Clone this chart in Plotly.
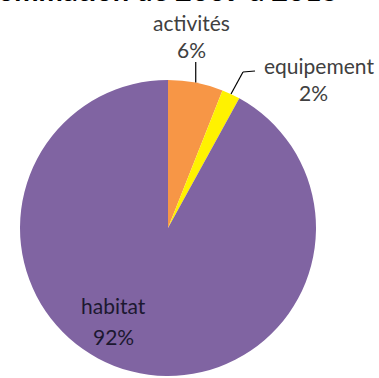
import math
import plotly.graph_objects as go

labels = ["activités", "equipement", "habitat"]
values = [6, 2, 92]
colors = ["#F79646", "#FFF200", "#8064A2"]
title_text = "Consommation de 2009 à 2015"

W, H = 379, 378
cx, cy, R = 168, 228, 148  # pie centre / radius in px (top-left origin)

fig = go.Figure(go.Pie(
    labels=labels, values=values, sort=False, direction="clockwise", rotation=0,
    marker=dict(colors=colors, line=dict(width=0)),
    textinfo="none", hoverinfo="label+percent", showlegend=False,
    domain=dict(x=[(cx - R) / W, (cx + R) / W], y=[(H - cy - R) / H, (H - cy + R) / H]),
))

def px(x, y):
    return x / W, 1 - y / H

total = sum(values)
mids = []
acc = 0
for v in values:
    mids.append((acc + v / 2) / total * 2 * math.pi)
    acc += v

def edge(i, f=1.0):
    a = mids[i]
    return cx + f * R * math.sin(a), cy - f * R * math.cos(a)

annots = []
shapes = []
font_out = dict(family="Lato, Carlito, sans-serif", size=21, color="#404040")
font_in = dict(family="Lato, Carlito, sans-serif", size=21, color="#1c1830")

# activités
ex, ey = edge(0)
shapes.append(dict(type="line", xref="paper", yref="paper",
                   x0=px(ex, ey)[0], y0=px(ex, ey)[1], x1=px(ex, 62)[0], y1=px(ex, 62)[1],
                   line=dict(color="#000000", width=1.2)))
for txt, yy in [(labels[0], 23), (f"{values[0]}%", 49)]:
    x, y = px(191, yy)
    annots.append(dict(text=txt, x=x, y=y, xref="paper", yref="paper", showarrow=False,
                       xanchor="center", yanchor="middle", font=font_out))

# equipement
ex, ey = edge(1)
pts = [(ex, ey), (243, 72), (255, 71)]
for (a, b), (c, d) in zip(pts[:-1], pts[1:]):
    shapes.append(dict(type="line", xref="paper", yref="paper",
                       x0=px(a, b)[0], y0=px(a, b)[1], x1=px(c, d)[0], y1=px(c, d)[1],
                       line=dict(color="#000000", width=1.2)))
for txt, yy, xx in [(labels[1], 65, 319), (f"{values[1]}%", 92, 313)]:
    x, y = px(xx, yy)
    annots.append(dict(text=txt, x=x, y=y, xref="paper", yref="paper", showarrow=False,
                       xanchor="center", yanchor="middle", font=font_out))

# habitat (inside)
for txt, yy in [(labels[2], 305), (f"{values[2]}%", 336)]:
    x, y = px(113, yy)
    annots.append(dict(text=txt, x=x, y=y, xref="paper", yref="paper", showarrow=False,
                       xanchor="center", yanchor="middle", font=font_in))

# title, mostly cut off at the top (as in the reference)
annots.append(dict(text=f"<b>{title_text}</b>", x=340 / W, y=1 - 9 / H, xref="paper", yref="paper",
                   showarrow=False, xanchor="right", yanchor="bottom",
                   font=dict(family="Lato, Carlito, sans-serif", size=29, color="#000000")))

fig.update_layout(width=W, height=H, margin=dict(l=0, r=0, t=0, b=0),
                  paper_bgcolor="white", plot_bgcolor="white",
                  annotations=annots, shapes=shapes)
fig.write_html("out.html")
